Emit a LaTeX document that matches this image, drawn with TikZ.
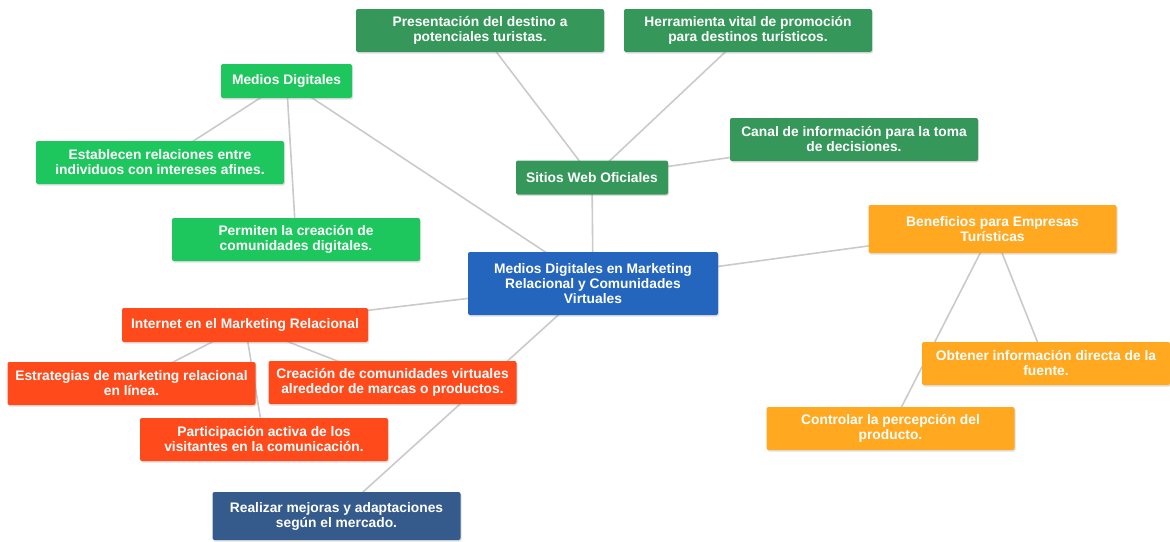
\documentclass[tikz,border=0pt]{standalone}
\usepackage{fontspec}
\setmainfont{Liberation Sans}
\usetikzlibrary{backgrounds,shadows}
\definecolor{dkgreen}{HTML}{35985A}
\definecolor{brgreen}{HTML}{1EC65E}
\definecolor{cblue}{HTML}{2465BE}
\definecolor{cred}{HTML}{FF4A1C}
\definecolor{corange}{HTML}{FFA820}
\definecolor{cslate}{HTML}{355B8C}
\definecolor{cline}{HTML}{CACACA}
\newcommand{\boxfont}{\fontsize{13.8}{15}\selectfont\bfseries}
\tikzset{
  box/.style={rounded corners=2pt, text=white, font=\boxfont, align=center, inner sep=0pt,
    drop shadow={shadow xshift=1pt, shadow yshift=-1.5pt, opacity=0.25}},
  wide/.style={box, minimum width=248pt, minimum height=43pt},
  single/.style={box, minimum height=34pt},
  link/.style={draw=cline, line width=1.6pt}
}
\begin{document}
\begin{tikzpicture}[x=1pt,y=-1pt]
\useasboundingbox (0,0) rectangle (1170,541);
\node[wide, fill=dkgreen] (pres) at (480,30.5) {Presentación del destino a\\potenciales turistas.};
\node[wide, fill=dkgreen] (herr) at (748,30.5) {Herramienta vital de promoción\\para destinos turísticos.};
\node[single, fill=brgreen, minimum width=131pt] (md) at (286.5,81) {Medios Digitales};
\node[wide, fill=brgreen] (est) at (160,162.5) {Establecen relaciones entre\\individuos con intereses afines.};
\node[wide, fill=dkgreen] (canal) at (854,139.5) {Canal de información para la toma\\de decisiones.};
\node[single, fill=dkgreen, minimum width=152pt] (sitios) at (592,177.5) {Sitios Web Oficiales};
\node[wide, fill=brgreen] (perm) at (296,239.5) {Permiten la creación de\\comunidades digitales.};
\node[wide, fill=corange, minimum height=48pt] (ben) at (992.5,229) {Beneficios para Empresas\\Turísticas};
\node[wide, fill=cblue, minimum width=250pt, minimum height=63pt] (central) at (593,283.5) {Medios Digitales en Marketing\\Relacional y Comunidades\\Virtuales};
\node[single, fill=cred, minimum width=246pt] (inet) at (245,325) {Internet en el Marketing Relacional};
\node[wide, fill=cred] (estr) at (131.5,383.5) {Estrategias de marketing relacional\\en línea.};
\node[wide, fill=cred] (crea) at (392.5,382.5) {Creación de comunidades virtuales\\alrededor de marcas o productos.};
\node[wide, fill=cred] (part) at (264,439.5) {Participación activa de los\\visitantes en la comunicación.};
\node[wide, fill=corange] (obt) at (1046,363.5) {Obtener información directa de la\\fuente.};
\node[wide, fill=corange] (ctrl) at (890.5,428.5) {Controlar la percepción del\\producto.};
\node[wide, fill=cslate, minimum height=48pt] (real) at (336.5,516) {Realizar mejoras y adaptaciones\\según el mercado.};
\begin{scope}[on background layer]
\draw[link] (central.center) -- (sitios.center);
\draw[link] (sitios.center) -- (pres.center);
\draw[link] (sitios.center) -- (herr.center);
\draw[link] (sitios.center) -- (canal.center);
\draw[link] (central.center) -- (md.center);
\draw[link] (md.center) -- (est.center);
\draw[link] (md.center) -- (perm.center);
\draw[link] (central.center) -- (ben.center);
\draw[link] (ben.center) -- (obt.center);
\draw[link] (ben.center) -- (ctrl.center);
\draw[link] (central.center) -- (inet.center);
\draw[link] (inet.center) -- (estr.center);
\draw[link] (inet.center) -- (part.center);
\draw[link] (inet.center) -- (crea.center);
\draw[link] (central.center) -- (real.center);
\end{scope}
\end{tikzpicture}
\end{document}
